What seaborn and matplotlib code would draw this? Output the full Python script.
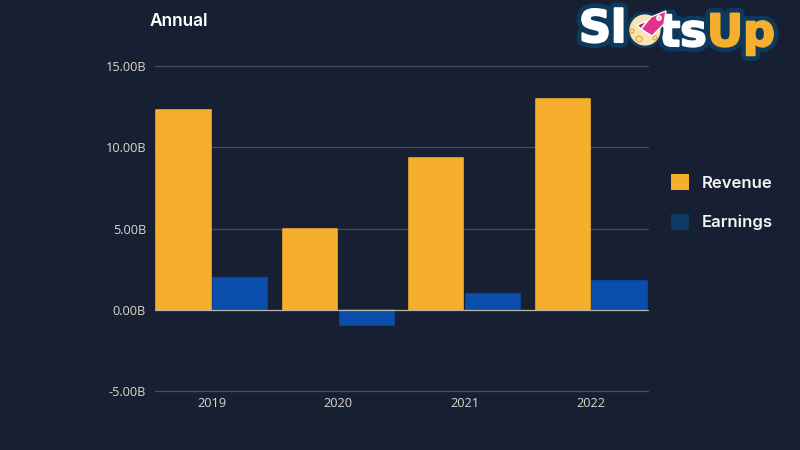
import matplotlib
matplotlib.use("Agg")
import matplotlib.pyplot as plt
import matplotlib.patheffects as pe
from matplotlib.patches import Circle, Polygon, Patch
import pandas as pd
import seaborn as sns

# Values, in billions
years = ["2019", "2020", "2021", "2022"]
revenue = [12.3, 4.98, 9.35, 12.98]
earnings = [1.97, -0.95, 0.98, 1.78]
y_ticks = [-5, 0, 5, 10, 15]
y_labels = ["-5.00B", "0.00B", "5.00B", "10.00B", "15.00B"]

BG = "#172033"
AMBER = "#F6AE2D"
BLUE = "#0A4DAD"
LEGEND_BLUE = "#0B3A63"
TICK = "#DDD6C8"

df = pd.DataFrame({
    "year": years * 2,
    "kind": ["Revenue"] * 4 + ["Earnings"] * 4,
    "value": revenue + earnings,
})

sns.set_theme(style="dark")
plt.rcParams["font.family"] = ["Open Sans", "DejaVu Sans"]

fig = plt.figure(figsize=(8, 4.5), dpi=100, facecolor=BG)
ax = fig.add_axes([155 / 800, (450 - 391) / 450, 493 / 800, 325 / 450], facecolor=BG)

sns.barplot(data=df, x="year", y="value", hue="kind", order=years,
            palette={"Revenue": AMBER, "Earnings": BLUE},
            width=0.9, gap=0.045, saturation=1, legend=False, ax=ax, zorder=3)

# small rounded corners on the bars
for bar in ax.patches:
    bar.set_edgecolor(bar.get_facecolor())
    bar.set_linewidth(1.2)
    bar.set_joinstyle("round")

ax.set_xlim(-0.45, 3.45)
ax.set_ylim(-5, 15)
ax.set_yticks(y_ticks, y_labels)
ax.set_xlabel("")
ax.set_ylabel("")
ax.grid(False)
for t in y_ticks:
    ax.axhline(t, color="#B9B4A8" if t == 0 else "#474D5C", lw=0.9,
               zorder=4 if t == 0 else 1, clip_on=False)
ax.tick_params(axis="both", length=0, labelsize=9.2, labelcolor=TICK)
ax.tick_params(axis="y", pad=6.5)
ax.tick_params(axis="x", pad=4)
for s in ax.spines.values():
    s.set_visible(False)

# legend swatch for Earnings is darker than the bars in the source
handles = [Patch(facecolor=AMBER, edgecolor="none", label="Revenue"),
           Patch(facecolor=LEGEND_BLUE, edgecolor="none", label="Earnings")]
leg = fig.legend(handles=handles, loc="upper left", bbox_to_anchor=(671 / 800, 1 - 174 / 450),
                 frameon=False, borderpad=0, borderaxespad=0, handlelength=1.08, handleheight=1.08,
                 handletextpad=0.78, labelspacing=1.4,
                 prop={"family": "Inter", "weight": "semibold", "size": 12})
for text in leg.get_texts():
    text.set_color("#F5F5F5")

# overlay in pixel coordinates for the title and logo
over = fig.add_axes([0, 0, 1, 1], facecolor="none")
over.set_xlim(0, 800)
over.set_ylim(450, 0)
over.axis("off")

over.text(150, 21, "Annual", color="white", fontsize=12.5, family="Inter", weight="semibold", va="center")


def logo_text(x, y, s, color):
    effects = [pe.Stroke(linewidth=8, foreground="#0D3A5C"),
               pe.Stroke(linewidth=1.5, foreground=color), pe.Normal()]
    over.text(x, y, s, color=color, fontsize=32, family="DejaVu Sans", weight="bold",
              va="baseline", path_effects=effects, zorder=5)


logo_text(579, 42, "Sl", "white")
logo_text(659, 46, "ts", "white")
logo_text(707, 46, "Up", AMBER)

over.add_patch(Circle((645, 30), 17, facecolor="#F7E3B5", edgecolor="#0D3A5C", lw=2, zorder=6))
for cx, cy, r in [(639, 39, 3), (632, 31, 2), (655, 38, 2)]:
    over.add_patch(Circle((cx, cy), r, facecolor="none", edgecolor=AMBER, lw=1, zorder=7))
over.add_patch(Polygon([(641, 29), (651, 17), (666, 11), (664, 24), (652, 36)], facecolor="#E0338E", zorder=8))
over.add_patch(Polygon([(641, 29), (637, 25), (647, 21)], facecolor="#A52A80", zorder=8))
over.add_patch(Circle((659, 18), 2.2, facecolor="#F7C9A0", zorder=9))

fig.savefig("out.png", dpi=100, facecolor=BG)
